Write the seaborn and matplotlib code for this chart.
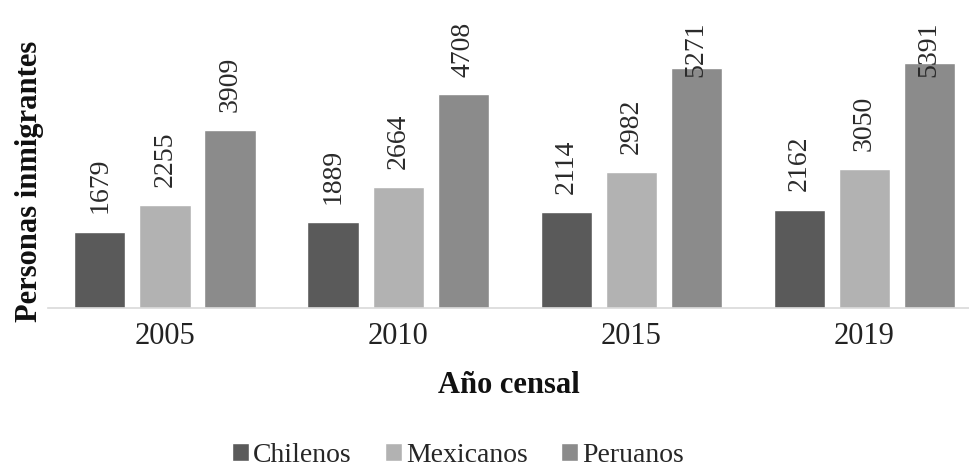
import matplotlib
matplotlib.use("Agg")
import matplotlib.pyplot as plt
import pandas as pd
import seaborn as sns

# data
years = ["2005", "2010", "2015", "2019"]
groups = ["Chilenos", "Mexicanos", "Peruanos"]
chilenos = [1679, 1889, 2114, 2162]
mexicanos = [2255, 2664, 2982, 3050]
peruanos = [3909, 4708, 5271, 5391]

colors = ["#5a5a5a", "#b2b2b2", "#8b8b8b"]

sns.set_theme(style="white")
plt.rcParams.update(
    {
        "font.family": ["Liberation Serif", "DejaVu Serif"],
        "font.size": 20,
    }
)

df = pd.DataFrame(
    {
        "Year": years * 3,
        "Grupo": [g for g in groups for _ in years],
        "Personas": chilenos + mexicanos + peruanos,
    }
)

fig = plt.figure(figsize=(9.69, 4.72), dpi=100)
ax = fig.add_axes([48 / 969, 164 / 472, 921 / 969, 294 / 472])

sns.barplot(
    data=df, x="Year", y="Personas", hue="Grupo", palette=colors,
    width=0.837, gap=0.215, ax=ax, legend=True, saturation=1,
)

ymax = 6460
ax.set_ylim(0, ymax)
ax.set_xlim(-0.502, 3.45)

# value labels, rotated, kept inside the plot area
for cont in ax.containers:
    for bar in cont:
        v = bar.get_height()
        y = min(v + 400, ymax - 1380)
        ax.text(bar.get_x() + bar.get_width() / 2, y, f"{int(v)}",
                rotation=90, ha="center", va="bottom", fontsize=20, color="#2a2a2a")

for s in ["top", "right", "left"]:
    ax.spines[s].set_visible(False)
ax.spines["bottom"].set_color("#d9d9d9")
ax.spines["bottom"].set_linewidth(1.2)
ax.set_yticks([])
ax.tick_params(axis="x", length=0, pad=10, labelsize=22, colors="#222222")

ax.set_xlabel("Año censal", fontsize=22, fontweight="bold", color="#111111")
ax.set_ylabel("Personas inmigrantes", fontsize=22, fontweight="bold", color="#111111")
ax.xaxis.set_label_coords(0.50, -0.215)
ax.yaxis.set_label_coords(-0.004, 0.43)

ax.legend_.remove()
handles, labels = ax.get_legend_handles_labels()
fig.legend(handles, labels, loc="center", bbox_to_anchor=(458 / 969, 1 - 455 / 472),
           ncol=3, frameon=False, fontsize=20, handlelength=0.6, handleheight=0.6,
           handletextpad=0.15, columnspacing=1.2, borderpad=0.1)

fig.savefig("out.png", dpi=100)
